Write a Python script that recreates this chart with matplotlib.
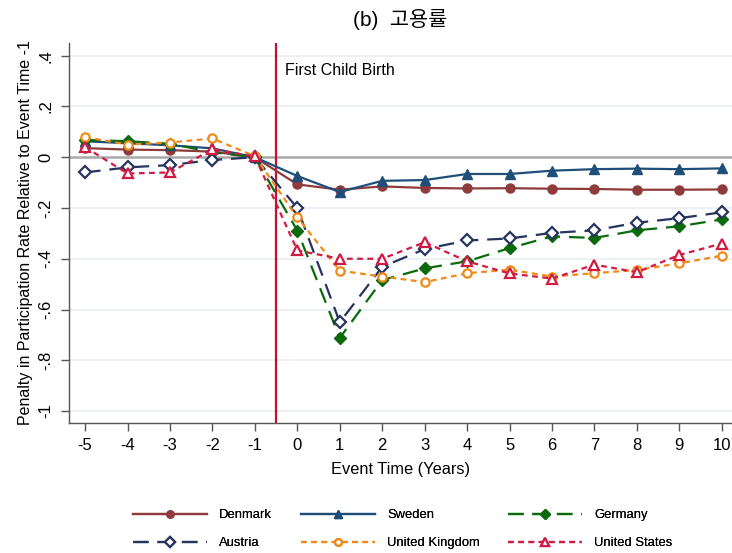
import matplotlib
matplotlib.use("Agg")
import matplotlib.pyplot as plt

plt.rcParams['font.family'] = ['Liberation Sans', 'Noto Sans CJK KR', 'DejaVu Sans']

event_time = [-5, -4, -3, -2, -1, 0, 1, 2, 3, 4, 5, 6, 7, 8, 9, 10]

denmark = [0.036, 0.030, 0.028, 0.022, 0.0, -0.107, -0.128, -0.115, -0.121, -0.123,
           -0.122, -0.124, -0.125, -0.128, -0.128, -0.127]
sweden = [0.063, 0.055, 0.047, 0.035, 0.0, -0.074, -0.137, -0.093, -0.090, -0.066,
          -0.066, -0.053, -0.047, -0.045, -0.047, -0.044]
germany = [0.068, 0.063, 0.053, 0.020, 0.0, -0.289, -0.712, -0.484, -0.438, -0.410,
           -0.358, -0.312, -0.318, -0.288, -0.272, -0.245]
austria = [-0.060, -0.040, -0.031, -0.011, 0.0, -0.200, -0.650, -0.432, -0.362, -0.328,
           -0.320, -0.298, -0.288, -0.258, -0.240, -0.217]
uk = [0.079, 0.050, 0.058, 0.074, 0.004, -0.237, -0.447, -0.470, -0.492, -0.457,
      -0.443, -0.470, -0.457, -0.444, -0.418, -0.388]
us = [0.040, -0.064, -0.060, 0.031, 0.003, -0.367, -0.400, -0.400, -0.335, -0.410,
      -0.458, -0.478, -0.423, -0.453, -0.385, -0.340]

y_ticks = [0.4, 0.2, 0, -0.2, -0.4, -0.6, -0.8, -1]
y_tick_labels = ['.4', '.2', '0', '-.2', '-.4', '-.6', '-.8', '-1']

styles = {
    "Denmark": dict(color='#8f3b3b', ls='-', marker='o', mfc='#8f3b3b', ms=6.5, lw=1.6),
    "Sweden": dict(color='#1f4e79', ls='-', marker='^', mfc='#1f4e79', ms=7.2, lw=1.6),
    "Germany": dict(color='#0b6a0b', ls=(0, (7, 4)), marker='D', mfc='#0b6a0b', ms=6, lw=1.6),
    "Austria": dict(color='#27345e', ls=(0, (7, 4)), marker='D', mfc='white', ms=6, lw=1.6, mew=1.6),
    "United Kingdom": dict(color='#f08a17', ls=(0, (2.6, 2)), marker='o', mfc='white', ms=6, lw=1.6, mew=1.6),
    "United States": dict(color='#d01c44', ls=(0, (2.6, 2)), marker='^', mfc='white', ms=7, lw=1.6, mew=1.6),
}
series = [("Denmark", denmark), ("Sweden", sweden), ("Germany", germany),
          ("Austria", austria), ("United Kingdom", uk), ("United States", us)]

fig = plt.figure(figsize=(7.32, 5.53), dpi=100)
ax = fig.add_axes([68.5 / 732, 1 - 423 / 553, (732 - 68.5) / 732, (423 - 43) / 553])

for yt in y_ticks:
    if yt == 0:
        ax.axhline(0, color='#a8a8a8', lw=1.8, zorder=1)
    else:
        ax.axhline(yt, color='#e6eef2', lw=1.2, zorder=0)

ax.axvline(-0.5, color='#c8102e', lw=1.6, zorder=1)
ax.text(-0.3, 0.34, "First Child Birth", fontsize=11.5, va='center', ha='left')

lines = {}
for name, vals in series:
    lines[name], = ax.plot(event_time, vals, label=name, zorder=3, **styles[name])

ax.set_xlim(-5.39, 10.24)
ax.set_ylim(-1.047, 0.45)
ax.set_xticks(event_time)
ax.set_xticklabels([str(t) for t in event_time], fontsize=12)
ax.set_yticks(y_ticks)
ax.set_yticklabels(y_tick_labels, fontsize=12, rotation=90, va='center')
ax.tick_params(axis='both', length=6, width=1, color='#555555', pad=5)

for side in ('top', 'right'):
    ax.spines[side].set_visible(False)
for side in ('left', 'bottom'):
    ax.spines[side].set_color('#555555')
    ax.spines[side].set_linewidth(1)

ax.set_xlabel("Event Time (Years)", fontsize=11.8, labelpad=6)
ax.set_ylabel("Penalty in Participation Rate Relative to Event Time -1", fontsize=11.5, labelpad=4)
ax.set_title("(b)  고용률", fontsize=15, pad=12,
             family=['Liberation Sans', 'Noto Sans CJK KR'])

# legend: three columns, filled row by row
legend_cols = [("Denmark", "Austria"), ("Sweden", "United Kingdom"), ("Germany", "United States")]
col_x = [133, 301, 508]
for names, x0 in zip(legend_cols, col_x):
    leg = fig.legend([lines[n] for n in names], list(names), loc='upper left',
                     bbox_to_anchor=(x0 / 732, 1 - 509 / 553), frameon=False,
                     fontsize=9.4, handlelength=5.67, handletextpad=0.92,
                     labelspacing=1.23, borderpad=0, borderaxespad=0, markerscale=0.8)
    fig.add_artist(leg)

fig.savefig("out.png", dpi=100)
